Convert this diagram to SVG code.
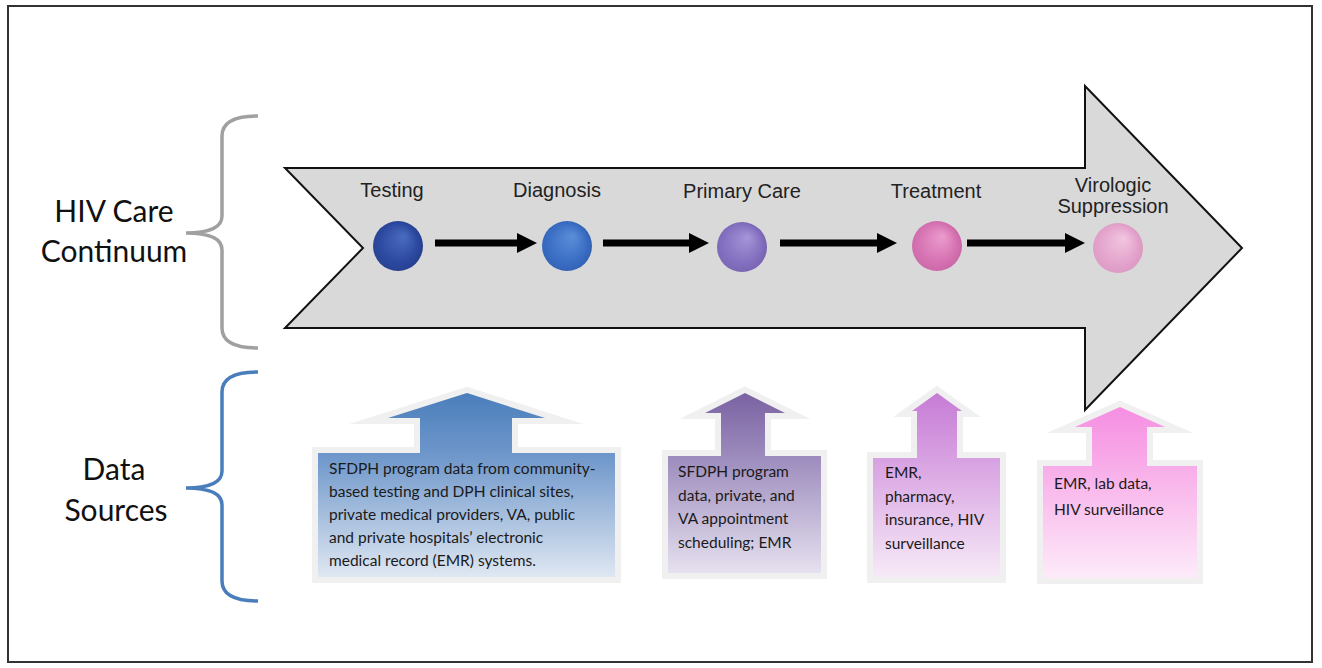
<svg xmlns="http://www.w3.org/2000/svg" width="1322" height="668" viewBox="0 0 1322 668">
<style>
.lbl{font-family:"Liberation Sans",Arial,sans-serif;font-size:20px;fill:#222;text-anchor:middle}
.side{font-family:Lato,"Open Sans",sans-serif;font-size:30px;fill:#111;text-anchor:middle}
.src{font-family:Lato,"Open Sans",sans-serif;font-size:15.5px;fill:#1a1a1a}
.glow{fill:#f0f0f0;stroke:#f0f0f0;stroke-width:12;stroke-linejoin:miter;stroke-miterlimit:10}
.brace{fill:none;stroke-width:3.5;stroke-linecap:butt}
.flow{stroke:#000;stroke-width:7;fill:none}
</style>
<defs>
<marker id="ah" viewBox="0 0 20 20" markerWidth="20" markerHeight="20" refX="3" refY="10" orient="auto" markerUnits="userSpaceOnUse">
<path d="M0,0 L20,10 L0,20 Z" fill="#000"/>
</marker>
<radialGradient id="b1" cx="0.45" cy="0.5" r="0.55" fx="0.62" fy="0.3"><stop offset="0" stop-color="#4a6cc0"/><stop offset="0.7" stop-color="#2c49a0"/><stop offset="1" stop-color="#263f8e"/></radialGradient>
<radialGradient id="b2" cx="0.45" cy="0.5" r="0.55" fx="0.62" fy="0.3"><stop offset="0" stop-color="#5c8ed8"/><stop offset="0.7" stop-color="#3a6ec4"/><stop offset="1" stop-color="#3160b2"/></radialGradient>
<radialGradient id="b3" cx="0.45" cy="0.5" r="0.55" fx="0.62" fy="0.3"><stop offset="0" stop-color="#a595d8"/><stop offset="0.7" stop-color="#8470c0"/><stop offset="1" stop-color="#7663b0"/></radialGradient>
<radialGradient id="b4" cx="0.45" cy="0.5" r="0.55" fx="0.62" fy="0.3"><stop offset="0" stop-color="#eb9ccd"/><stop offset="0.7" stop-color="#d672b2"/><stop offset="1" stop-color="#c966a6"/></radialGradient>
<radialGradient id="b5" cx="0.45" cy="0.5" r="0.55" fx="0.62" fy="0.3"><stop offset="0" stop-color="#f2c6e0"/><stop offset="0.7" stop-color="#e3a3cc"/><stop offset="1" stop-color="#db98c3"/></radialGradient>
<linearGradient id="g1" x1="0" y1="0" x2="0" y2="1"><stop offset="0" stop-color="#4a7ebb"/><stop offset="0.35" stop-color="#7098cb"/><stop offset="1" stop-color="#dfe7f2"/></linearGradient>
<linearGradient id="g2" x1="0" y1="0" x2="0" y2="1"><stop offset="0" stop-color="#7a62a2"/><stop offset="0.35" stop-color="#9c8bbd"/><stop offset="1" stop-color="#e6e1ef"/></linearGradient>
<linearGradient id="g3" x1="0" y1="0" x2="0" y2="1"><stop offset="0" stop-color="#c67bd6"/><stop offset="0.35" stop-color="#d7a0e1"/><stop offset="1" stop-color="#f6eaf7"/></linearGradient>
<linearGradient id="g4" x1="0" y1="0" x2="0" y2="1"><stop offset="0" stop-color="#f68ee2"/><stop offset="0.35" stop-color="#f8ade9"/><stop offset="1" stop-color="#fdebf9"/></linearGradient>
</defs>
<rect x="0" y="0" width="1322" height="668" fill="#fff"/>
<rect x="8" y="6" width="1304" height="656" fill="#fff" stroke="#333" stroke-width="2"/>

<g id="brace-continuum">
<path class="brace" stroke="#a0a0a0" d="M258,116 Q222,116 222,136 L222,216 Q222,233 186,233 Q222,233 222,250 L222,328 Q222,348 258,348"/>
<text class="side" x="114" y="222">HIV Care</text>
<text class="side" x="114" y="262">Continuum</text>
</g>
<g id="brace-sources">
<path class="brace" stroke="#4a7ebb" d="M258,372 Q222,372 222,392 L222,471 Q222,488 186,488 Q222,488 222,505 L222,581 Q222,601 258,601"/>
<text class="side" x="114" y="480">Data</text>
<text class="side" x="116" y="521">Sources</text>
</g>

<g id="continuum-arrow">
<path d="M285,168 L1085,168 L1085,86 L1242,248 L1085,410 L1085,328 L285,328 L363,248 Z" fill="#d9d9d9" stroke="#111" stroke-width="2" stroke-linejoin="miter"/>
</g>

<g id="node-testing">
<text class="lbl" x="392" y="197">Testing</text>
<circle cx="398" cy="246" r="25" fill="url(#b1)"/>
</g>
<g id="node-diagnosis">
<text class="lbl" x="557" y="197">Diagnosis</text>
<circle cx="567" cy="246" r="25" fill="url(#b2)"/>
</g>
<g id="node-primary-care">
<text class="lbl" x="742" y="198">Primary Care</text>
<circle cx="742" cy="247" r="25" fill="url(#b3)"/>
</g>
<g id="node-treatment">
<text class="lbl" x="936" y="198">Treatment</text>
<circle cx="937" cy="246" r="25" fill="url(#b4)"/>
</g>
<g id="node-virologic">
<text class="lbl" x="1113" y="192">Virologic</text>
<text class="lbl" x="1113" y="213">Suppression</text>
<circle cx="1118" cy="248" r="25" fill="url(#b5)"/>
</g>

<g id="connectors">
<line class="flow" x1="435" y1="243" x2="520" y2="243" marker-end="url(#ah)"/>
<line class="flow" x1="603" y1="243" x2="692" y2="243" marker-end="url(#ah)"/>
<line class="flow" x1="780" y1="243" x2="880" y2="243" marker-end="url(#ah)"/>
<line class="flow" x1="967" y1="243" x2="1068" y2="243" marker-end="url(#ah)"/>
</g>

<g id="source-testing">
<path class="glow" d="M467,393 L545,418 L512,418 L512,453 L615,453 L615,577 L318,577 L318,453 L420,453 L420,418 L388,418 Z"/>
<path fill="url(#g1)" d="M467,393 L545,418 L512,418 L512,453 L615,453 L615,577 L318,577 L318,453 L420,453 L420,418 L388,418 Z"/>
<text class="src" x="329" y="474">SFDPH program data from community-</text>
<text class="src" x="329" y="497">based testing and DPH clinical sites,</text>
<text class="src" x="329" y="520">private medical providers, VA, public</text>
<text class="src" x="329" y="543">and private hospitals’ electronic</text>
<text class="src" x="329" y="566">medical record (EMR) systems.</text>
</g>
<g id="source-primary-care">
<path class="glow" d="M745,393 L785,413 L765,413 L765,456 L821,456 L821,573 L668,573 L668,456 L721,456 L721,413 L705,413 Z"/>
<path fill="url(#g2)" d="M745,393 L785,413 L765,413 L765,456 L821,456 L821,573 L668,573 L668,456 L721,456 L721,413 L705,413 Z"/>
<text class="src" x="678" y="477">SFDPH program</text>
<text class="src" x="678" y="501">data, private, and</text>
<text class="src" x="678" y="524">VA appointment</text>
<text class="src" x="678" y="548">scheduling; EMR</text>
</g>
<g id="source-treatment">
<path class="glow" d="M937,393 L962,411 L957,411 L957,458 L1000,458 L1000,577 L873,577 L873,458 L917,458 L917,411 L912,411 Z"/>
<path fill="url(#g3)" d="M937,393 L962,411 L957,411 L957,458 L1000,458 L1000,577 L873,577 L873,458 L917,458 L917,411 L912,411 Z"/>
<text class="src" x="885" y="478">EMR,</text>
<text class="src" x="885" y="502">pharmacy,</text>
<text class="src" x="885" y="525">insurance, HIV</text>
<text class="src" x="885" y="549">surveillance</text>
</g>
<g id="source-virologic">
<path class="glow" d="M1120,407 L1165,427 L1147,427 L1147,466 L1197,466 L1197,578 L1043,578 L1043,466 L1092,466 L1092,427 L1075,427 Z"/>
<path fill="url(#g4)" d="M1120,407 L1165,427 L1147,427 L1147,466 L1197,466 L1197,578 L1043,578 L1043,466 L1092,466 L1092,427 L1075,427 Z"/>
<text class="src" x="1054" y="489">EMR, lab data,</text>
<text class="src" x="1054" y="515">HIV surveillance</text>
</g>
</svg>
